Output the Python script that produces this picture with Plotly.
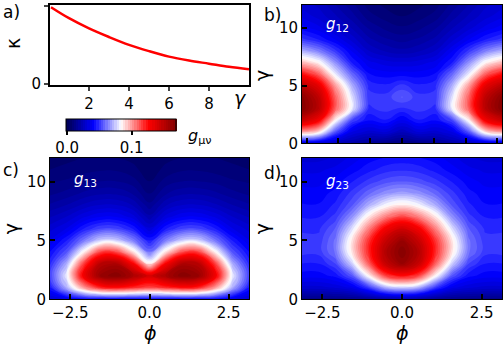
import plotly.graph_objects as go

# panel a
gamma_a = [0.1, 1, 2, 3, 4, 5, 6, 7, 8, 9, 10]
kappa = [0.98, 0.84, 0.71, 0.60, 0.50, 0.42, 0.35, 0.30, 0.26, 0.22, 0.19]

# grids for the maps (rows = gamma 0..12, cols = phi -pi..pi)
phi = [-3.1416, -2.618, -2.0944, -1.5708, -1.0472, -0.5236, 0.0,
       0.5236, 1.0472, 1.5708, 2.0944, 2.618, 3.1416]
gamma = [0, 1, 2, 3, 4, 5, 6, 7, 8, 9, 10, 11, 12]

g12 = [
    [0.030, 0.030, 0.025, 0.020, 0.015, 0.012, 0.010, 0.012, 0.015, 0.020, 0.025, 0.030, 0.030],
    [0.100, 0.090, 0.055, 0.035, 0.030, 0.032, 0.025, 0.032, 0.030, 0.035, 0.055, 0.090, 0.100],
    [0.145, 0.130, 0.085, 0.052, 0.042, 0.045, 0.038, 0.045, 0.042, 0.052, 0.085, 0.130, 0.145],
    [0.167, 0.150, 0.110, 0.080, 0.048, 0.050, 0.048, 0.050, 0.048, 0.080, 0.110, 0.150, 0.167],
    [0.165, 0.148, 0.110, 0.078, 0.050, 0.050, 0.056, 0.050, 0.050, 0.078, 0.110, 0.148, 0.165],
    [0.150, 0.135, 0.100, 0.070, 0.048, 0.046, 0.050, 0.046, 0.048, 0.070, 0.100, 0.135, 0.150],
    [0.125, 0.110, 0.080, 0.058, 0.042, 0.040, 0.040, 0.040, 0.042, 0.058, 0.080, 0.110, 0.125],
    [0.095, 0.085, 0.065, 0.045, 0.036, 0.033, 0.032, 0.033, 0.036, 0.045, 0.065, 0.085, 0.095],
    [0.070, 0.062, 0.050, 0.038, 0.028, 0.024, 0.022, 0.024, 0.028, 0.038, 0.050, 0.062, 0.070],
    [0.050, 0.045, 0.038, 0.030, 0.022, 0.018, 0.016, 0.018, 0.022, 0.030, 0.038, 0.045, 0.050],
    [0.040, 0.036, 0.030, 0.024, 0.017, 0.013, 0.011, 0.013, 0.017, 0.024, 0.030, 0.036, 0.040],
    [0.034, 0.030, 0.025, 0.019, 0.012, 0.009, 0.007, 0.009, 0.012, 0.019, 0.025, 0.030, 0.034],
    [0.030, 0.027, 0.021, 0.015, 0.009, 0.006, 0.004, 0.006, 0.009, 0.015, 0.021, 0.027, 0.030],
]

g13 = [
    [0.030, 0.035, 0.040, 0.040, 0.040, 0.040, 0.040, 0.040, 0.040, 0.040, 0.040, 0.035, 0.030],
    [0.045, 0.070, 0.100, 0.120, 0.125, 0.120, 0.115, 0.120, 0.125, 0.120, 0.100, 0.070, 0.045],
    [0.052, 0.080, 0.130, 0.160, 0.167, 0.155, 0.140, 0.155, 0.167, 0.160, 0.130, 0.080, 0.052],
    [0.048, 0.070, 0.115, 0.150, 0.155, 0.130, 0.088, 0.130, 0.155, 0.150, 0.115, 0.070, 0.048],
    [0.042, 0.055, 0.085, 0.115, 0.115, 0.090, 0.060, 0.090, 0.115, 0.115, 0.085, 0.055, 0.042],
    [0.035, 0.045, 0.060, 0.075, 0.075, 0.062, 0.045, 0.062, 0.075, 0.075, 0.060, 0.045, 0.035],
    [0.030, 0.035, 0.045, 0.052, 0.052, 0.045, 0.032, 0.045, 0.052, 0.052, 0.045, 0.035, 0.030],
    [0.024, 0.028, 0.034, 0.038, 0.038, 0.033, 0.022, 0.033, 0.038, 0.038, 0.034, 0.028, 0.024],
    [0.018, 0.021, 0.025, 0.028, 0.028, 0.024, 0.015, 0.024, 0.028, 0.028, 0.025, 0.021, 0.018],
    [0.013, 0.015, 0.018, 0.020, 0.020, 0.017, 0.010, 0.017, 0.020, 0.020, 0.018, 0.015, 0.013],
    [0.010, 0.011, 0.013, 0.014, 0.014, 0.012, 0.007, 0.012, 0.014, 0.014, 0.013, 0.011, 0.010],
    [0.007, 0.008, 0.009, 0.010, 0.010, 0.008, 0.005, 0.008, 0.010, 0.010, 0.009, 0.008, 0.007],
    [0.005, 0.006, 0.007, 0.007, 0.007, 0.006, 0.004, 0.006, 0.007, 0.007, 0.007, 0.006, 0.005],
]

g23 = [
    [0.012, 0.012, 0.012, 0.013, 0.015, 0.018, 0.020, 0.018, 0.015, 0.013, 0.012, 0.012, 0.012],
    [0.030, 0.030, 0.032, 0.036, 0.050, 0.070, 0.075, 0.070, 0.050, 0.036, 0.032, 0.030, 0.030],
    [0.040, 0.040, 0.043, 0.055, 0.085, 0.115, 0.125, 0.115, 0.085, 0.055, 0.043, 0.040, 0.040],
    [0.045, 0.045, 0.052, 0.075, 0.110, 0.145, 0.160, 0.145, 0.110, 0.075, 0.052, 0.045, 0.045],
    [0.050, 0.050, 0.060, 0.088, 0.120, 0.152, 0.167, 0.152, 0.120, 0.088, 0.060, 0.050, 0.050],
    [0.050, 0.050, 0.060, 0.088, 0.118, 0.145, 0.160, 0.145, 0.118, 0.088, 0.060, 0.050, 0.050],
    [0.048, 0.048, 0.056, 0.078, 0.105, 0.130, 0.142, 0.130, 0.105, 0.078, 0.056, 0.048, 0.048],
    [0.045, 0.045, 0.050, 0.065, 0.088, 0.105, 0.115, 0.105, 0.088, 0.065, 0.050, 0.045, 0.045],
    [0.042, 0.042, 0.046, 0.055, 0.070, 0.082, 0.088, 0.082, 0.070, 0.055, 0.046, 0.042, 0.042],
    [0.040, 0.040, 0.043, 0.050, 0.058, 0.065, 0.068, 0.065, 0.058, 0.050, 0.043, 0.040, 0.040],
    [0.037, 0.037, 0.040, 0.045, 0.050, 0.054, 0.056, 0.054, 0.050, 0.045, 0.040, 0.037, 0.037],
    [0.034, 0.034, 0.036, 0.040, 0.044, 0.047, 0.048, 0.047, 0.044, 0.040, 0.036, 0.034, 0.034],
    [0.030, 0.030, 0.032, 0.036, 0.040, 0.042, 0.043, 0.042, 0.040, 0.036, 0.032, 0.030, 0.030],
]

seismic = [[0.0, "rgb(0,0,77)"], [0.25, "rgb(0,0,255)"], [0.5, "rgb(255,255,255)"],
           [0.75, "rgb(255,0,0)"], [1.0, "rgb(128,0,0)"]]
ZMAX = 0.167
FONT = "DejaVu Sans"

fig = go.Figure()

fig.add_trace(go.Scatter(x=gamma_a, y=kappa, mode="lines", line=dict(color="red", width=2.5, shape="spline"),
                         xaxis="x", yaxis="y", showlegend=False))

for z, xa, ya in [(g12, "x2", "y2"), (g13, "x3", "y3"), (g23, "x4", "y4")]:
    fig.add_trace(go.Contour(
        x=phi, y=gamma, z=z, coloraxis="coloraxis",
        contours=dict(start=0, end=ZMAX, size=ZMAX / 48, coloring="fill"),
        line=dict(width=0, smoothing=1.3),
        xaxis=xa, yaxis=ya, showlegend=False))

frame = dict(showline=True, mirror=True, linecolor="black", showgrid=False, zeroline=False,
             tickfont=dict(family=FONT, size=15, color="black"))
map_ax = dict(frame, linewidth=1, ticks="inside", ticklen=5, tickwidth=2, tickcolor="black")

fig.update_layout(
    width=504, height=360,
    margin=dict(l=0, r=0, t=0, b=0),
    paper_bgcolor="white", plot_bgcolor="white",
    font=dict(family=FONT, color="black"),
    xaxis=dict(frame, linewidth=2, domain=[50 / 504, 249 / 504], range=[0.05, 10], anchor="y",
               tickvals=[2, 4, 6, 8], ticks="outside", ticklen=4, tickwidth=1.5),
    yaxis=dict(frame, linewidth=2, domain=[1 - 87 / 360, 1 - 5 / 360], range=[-0.01, 1.01], anchor="x",
               tickvals=[0, 1], ticks="outside", ticklen=4, tickwidth=1.5),
    xaxis2=dict(map_ax, domain=[302 / 504, 502 / 504], range=[-3.1416, 3.1416], anchor="y2",
                tickvals=[-3, -2, -1, 0, 1, 2, 3], showticklabels=False),
    yaxis2=dict(map_ax, domain=[1 - 147 / 360, 1 - 5 / 360], range=[0, 12], anchor="x2",
                tickvals=[0, 5, 10]),
    xaxis3=dict(map_ax, domain=[50 / 504, 249 / 504], range=[-3.1416, 3.1416], anchor="y3",
                tickvals=[-2.5, 0, 2.5], tickformat=".1f"),
    yaxis3=dict(map_ax, domain=[1 - 307 / 360, 1 - 162 / 360], range=[0, 12], anchor="x3",
                tickvals=[0, 5, 10]),
    xaxis4=dict(map_ax, domain=[302 / 504, 502 / 504], range=[-3.1416, 3.1416], anchor="y4",
                tickvals=[-2.5, 0, 2.5], tickformat=".1f"),
    yaxis4=dict(map_ax, domain=[1 - 307 / 360, 1 - 162 / 360], range=[0, 12], anchor="x4",
                tickvals=[0, 5, 10]),
    coloraxis=dict(
        colorscale=seismic, cmin=0, cmax=ZMAX,
        colorbar=dict(orientation="h", x=121 / 504, xanchor="center", y=1 - 122 / 360, yanchor="top",
                      len=110, lenmode="pixels", thickness=12, outlinecolor="black", outlinewidth=1,
                      tickvals=[0, 0.1], tickformat=".1f", ticks="outside", ticklen=4, tickwidth=2,
                      tickcolor="black", tickfont=dict(family=FONT, size=15, color="black"),
                      xpad=0, ypad=0)),
)

ann = [
    ("a)", 1, 12, 17, 0, "black"), ("b)", 262, 15, 17, 0, "black"),
    ("c)", 1, 174, 17, 0, "black"), ("d)", 262, 177, 17, 0, "black"),
    ("κ", 13, 45, 19, -90, "black"), ("<i>γ</i>", 240, 101, 19, 0, "black"),
    ("γ", 262, 78, 19, -90, "black"), ("γ", 11, 235, 19, -90, "black"),
    ("γ", 262, 235, 19, -90, "black"),
    ("<i>ϕ</i>", 150, 342, 19, 0, "black"), ("<i>ϕ</i>", 402, 342, 19, 0, "black"),
    ("<i>g</i><sub>μν</sub>", 200, 140, 16, 0, "black"),
    ("<i>g</i><sub>12</sub>", 337, 25, 15, 0, "white"),
    ("<i>g</i><sub>13</sub>", 85, 184, 15, 0, "white"),
    ("<i>g</i><sub>23</sub>", 337, 186, 15, 0, "white"),
]
for text, px, py, size, ang, col in ann:
    xa = "left" if text.endswith(")") else "center"
    fig.add_annotation(text=text, x=px / 504, y=1 - py / 360, xref="paper", yref="paper",
                       xanchor=xa, yanchor="middle", showarrow=False, textangle=ang,
                       font=dict(family=FONT, size=size, color=col))

# the page's default body margin would push the 504x360 figure off the window
fig.write_html("out.html", config={"displayModeBar": False},
               post_script="document.body.style.margin = '0';")
